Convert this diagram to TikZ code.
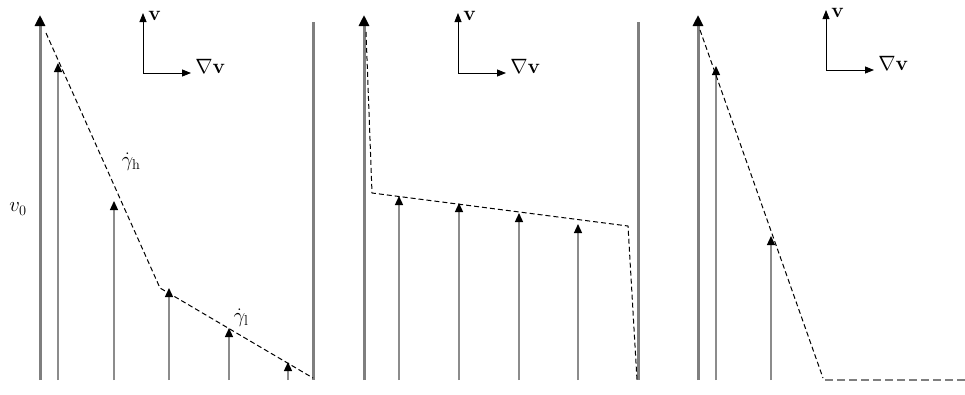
\documentclass[tikz,border=0pt]{standalone}
\usepackage{amsmath}
\usetikzlibrary{arrows.meta}

\definecolor{wallColour}{HTML}{7F7F7F}
\definecolor{veloColour}{HTML}{8C8C8C}

% shear rate with a large upright index
\newcommand{\shearrate}[1]{\dot\gamma_{\text{\Large #1}}}

\tikzset{
    wall/.style={line width=3pt, draw=wallColour},
    movingwall/.style={wall, -{Triangle[width=10pt,length=11pt,color=black]}},
    velo/.style={line width=1.3pt, draw=veloColour, -{Triangle[width=8pt,length=9pt,color=black]}},
    profile/.style={line width=1pt, dash pattern=on 5pt off 3pt},
    axisline/.style={line width=0.8pt, -{Triangle[width=7pt,length=9pt]}},
    lab/.style={font=\huge, inner sep=1pt},
}

\begin{document}
\begin{tikzpicture}[x=1pt, y=-1pt]
    % Fix the frame to the size of the reference
    \useasboundingbox (0,0) rectangle (965,394);

    \def\bottom{380}

    % Coordinate frames above each panel
    \foreach \cx/\cy/\pan in {143/73/a, 458/73/b, 826/70/c} {
        \coordinate (corner-\pan) at (\cx,\cy);
        \draw[axisline] (corner-\pan) -- ++(0,-60) node[lab, anchor=west, xshift=4pt, yshift=-3pt] (v-\pan) {$\mathbf{v}$};
        \draw[axisline] (corner-\pan) -- ++(48,0) node[lab, anchor=base west, xshift=3pt] (grad-\pan) {$\nabla\mathbf{v}$};
    }

    % Panel (a): two shear bands
    \draw[movingwall] (40,\bottom) -- (40,15);
    \draw[wall] (313,22) -- (313,\bottom);
    \foreach \x/\y in {58/63, 114/201, 169/288, 229/328, 288/362}
        \draw[velo] (\x,\bottom) -- (\x,\y);
    \coordinate (a1) at (46,33);
    \coordinate (a2) at (160,288);
    \coordinate (a3) at (313,378);
    \draw[profile] (a1) -- (a2) -- (a3);
    \node[lab] (vzero) at (18,209) {$v_0$};
    \node[lab] (gamh) at (131,162) {$\shearrate{h}$};
    \node[lab] (gaml) at (241,318) {$\shearrate{l}$};

    % Panel (b): slip at both walls
    \draw[movingwall] (364,\bottom) -- (364,15);
    \draw[wall] (638,22) -- (638,\bottom);
    \foreach \x/\y in {399/196, 459/203, 519/213, 578/224}
        \draw[velo] (\x,\bottom) -- (\x,\y);
    \coordinate (b1) at (366,32);
    \coordinate (b2) at (372,193);
    \coordinate (b3) at (628,226);
    \coordinate (b4) at (637,\bottom);
    \draw[profile] (b1) -- (b2) -- (b3) -- (b4);

    % Panel (c): unsheared plug
    \draw[movingwall] (698,\bottom) -- (698,15);
    \foreach \x/\y in {716/66, 771/236}
        \draw[velo] (\x,\bottom) -- (\x,\y);
    \coordinate (c1) at (700,30);
    \coordinate (c2) at (823,378);
    \coordinate (c3) at (965,\bottom);
    \draw[profile] (c1) -- (c2);
    \draw[wallColour, line width=2.5pt, dash pattern=on 8pt off 4pt] (825,\bottom) -- (c3);
\end{tikzpicture}
\end{document}
